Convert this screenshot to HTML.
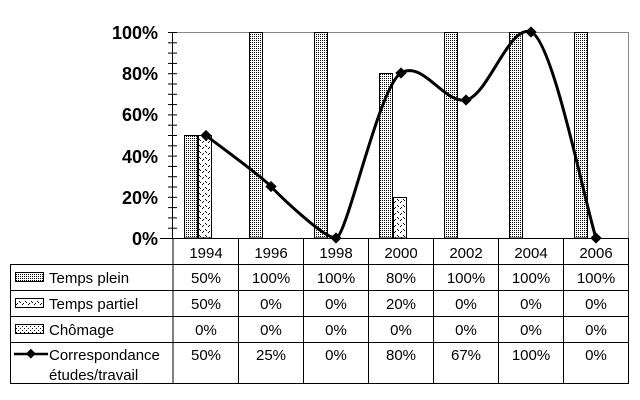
<!DOCTYPE html>
<html><head><meta charset="utf-8"><style>
html,body{margin:0;padding:0;background:#fff;}
svg{display:block;font-family:"Liberation Sans",Arial,sans-serif;}
</style></head><body>
<svg width="640" height="400" viewBox="0 0 640 400" xmlns="http://www.w3.org/2000/svg">
<defs>
<pattern id="pf" width="2" height="2" patternUnits="userSpaceOnUse">
<rect width="2" height="2" fill="#fff"/><rect width="1" height="1" fill="#000"/></pattern>
<pattern id="pp" width="6" height="6" patternUnits="userSpaceOnUse">
<rect width="6" height="6" fill="#fff"/><rect x="1" y="1" width="1" height="1" fill="#000"/><rect x="2" y="2" width="1" height="1" fill="#000"/><rect x="4" y="4" width="1" height="1" fill="#000"/><rect x="5" y="3" width="1" height="1" fill="#000"/></pattern>
<pattern id="pc" width="4" height="4" patternUnits="userSpaceOnUse">
<rect width="4" height="4" fill="#fff"/><rect width="1" height="1" fill="#000"/><rect x="2" y="2" width="1" height="1" fill="#000"/></pattern>
</defs>
<polyline points="173,32.5 628.5,32.5 628.5,238" fill="none" stroke="#888" stroke-width="1"/>
<g stroke="#000" stroke-width="1">
<rect x="184.5" y="135.5" width="13" height="102.5" fill="url(#pf)"/>
<rect x="198.5" y="135.5" width="13" height="102.5" fill="url(#pp)"/>
<rect x="249.5" y="32.5" width="13" height="205.5" fill="url(#pf)"/>
<rect x="314.5" y="32.5" width="13" height="205.5" fill="url(#pf)"/>
<rect x="379.5" y="73.5" width="13" height="164.5" fill="url(#pf)"/>
<rect x="393.5" y="197.5" width="13" height="40.5" fill="url(#pp)"/>
<rect x="444.5" y="32.5" width="13" height="205.5" fill="url(#pf)"/>
<rect x="509.5" y="32.5" width="13" height="205.5" fill="url(#pf)"/>
<rect x="574.5" y="32.5" width="13" height="205.5" fill="url(#pf)"/>
</g>
<line x1="172.5" y1="32" x2="172.5" y2="238" stroke="#000"/>
<g stroke="#000">
<line x1="168" y1="32.5" x2="177" y2="32.5"/><line x1="168" y1="42.8" x2="177" y2="42.8"/><line x1="168" y1="53.1" x2="177" y2="53.1"/><line x1="168" y1="63.4" x2="177" y2="63.4"/><line x1="168" y1="73.7" x2="177" y2="73.7"/><line x1="168" y1="84" x2="177" y2="84"/><line x1="168" y1="94.3" x2="177" y2="94.3"/><line x1="168" y1="104.6" x2="177" y2="104.6"/><line x1="168" y1="114.9" x2="177" y2="114.9"/><line x1="168" y1="125.2" x2="177" y2="125.2"/><line x1="168" y1="135.5" x2="177" y2="135.5"/><line x1="168" y1="145.8" x2="177" y2="145.8"/><line x1="168" y1="156.1" x2="177" y2="156.1"/><line x1="168" y1="166.4" x2="177" y2="166.4"/><line x1="168" y1="176.7" x2="177" y2="176.7"/><line x1="168" y1="187" x2="177" y2="187"/><line x1="168" y1="197.3" x2="177" y2="197.3"/><line x1="168" y1="207.6" x2="177" y2="207.6"/><line x1="168" y1="217.9" x2="177" y2="217.9"/><line x1="168" y1="228.2" x2="177" y2="228.2"/>
</g>
<g font-size="18" font-weight="bold" text-anchor="end">
<text x="158" y="39">100%</text><text x="158" y="80">80%</text><text x="158" y="121">60%</text><text x="158" y="163">40%</text><text x="158" y="204">20%</text><text x="158" y="245">0%</text>
</g>
<g stroke="#000" stroke-width="1" fill="none">
<line x1="160" y1="238.5" x2="629" y2="238.5"/>
<rect x="10.5" y="264.5" width="618" height="119"/>
<line x1="173" y1="238" x2="173" y2="384"/>
<line x1="238.5" y1="238" x2="238.5" y2="384"/><line x1="303.5" y1="238" x2="303.5" y2="384"/><line x1="368.5" y1="238" x2="368.5" y2="384"/><line x1="433.5" y1="238" x2="433.5" y2="384"/><line x1="498.5" y1="238" x2="498.5" y2="384"/><line x1="563.5" y1="238" x2="563.5" y2="384"/><line x1="628.5" y1="238" x2="628.5" y2="384"/>
<line x1="10" y1="290.5" x2="629" y2="290.5"/><line x1="10" y1="316.5" x2="629" y2="316.5"/><line x1="10" y1="342.5" x2="629" y2="342.5"/>
</g>
<rect x="15.5" y="272.5" width="28" height="9" fill="url(#pf)" stroke="#000"/>
<rect x="15.5" y="298.5" width="28" height="9" fill="url(#pp)" stroke="#000"/>
<rect x="15.5" y="324.5" width="28" height="9" fill="url(#pc)" stroke="#000"/>
<line x1="14" y1="354" x2="48" y2="354" stroke="#000" stroke-width="2.5"/>
<rect x="27" y="350" width="7" height="7" transform="rotate(45 30.5 354)" fill="#000"/>
<g font-size="15" fill="#000">
<text x="49" y="283">Temps plein</text><text x="49" y="309">Temps partiel</text><text x="49" y="335">Chômage</text>
<text x="49" y="360">Correspondance</text><text x="49" y="380">études/travail</text>
</g>
<g font-size="15" text-anchor="middle">
<text x="206" y="258">1994</text><text x="271" y="258">1996</text><text x="336" y="258">1998</text><text x="401" y="258">2000</text><text x="466" y="258">2002</text><text x="531" y="258">2004</text><text x="596" y="258">2006</text>
<text x="206" y="283">50%</text><text x="271" y="283">100%</text><text x="336" y="283">100%</text><text x="401" y="283">80%</text><text x="466" y="283">100%</text><text x="531" y="283">100%</text><text x="596" y="283">100%</text>
<text x="206" y="309">50%</text><text x="271" y="309">0%</text><text x="336" y="309">0%</text><text x="401" y="309">20%</text><text x="466" y="309">0%</text><text x="531" y="309">0%</text><text x="596" y="309">0%</text>
<text x="206" y="335">0%</text><text x="271" y="335">0%</text><text x="336" y="335">0%</text><text x="401" y="335">0%</text><text x="466" y="335">0%</text><text x="531" y="335">0%</text><text x="596" y="335">0%</text>
<text x="206" y="360">50%</text><text x="271" y="360">25%</text><text x="336" y="360">0%</text><text x="401" y="360">80%</text><text x="466" y="360">67%</text><text x="531" y="360">100%</text><text x="596" y="360">0%</text>
</g>
<path d="M206,135.5 C216.8,144 260,175 271,186.5 C282,198 325,239 336,238 C347,237 379,86 401,73 C423,60 444,104 466,100 C488,96 509,24 531,32 C553,40 585,204 596,238" fill="none" stroke="#000" stroke-width="3"/>
<g fill="#000">
<rect x="202" y="131.5" width="8" height="8" transform="rotate(45 206 135.5)"/>
<rect x="267" y="182.5" width="8" height="8" transform="rotate(45 271 186.5)"/>
<rect x="332" y="234" width="8" height="8" transform="rotate(45 336 238)"/>
<rect x="397" y="69" width="8" height="8" transform="rotate(45 401 73)"/>
<rect x="462" y="96" width="8" height="8" transform="rotate(45 466 100)"/>
<rect x="527" y="28" width="8" height="8" transform="rotate(45 531 32)"/>
<rect x="592" y="234" width="8" height="8" transform="rotate(45 596 238)"/>
</g>
</svg>
</body></html>
